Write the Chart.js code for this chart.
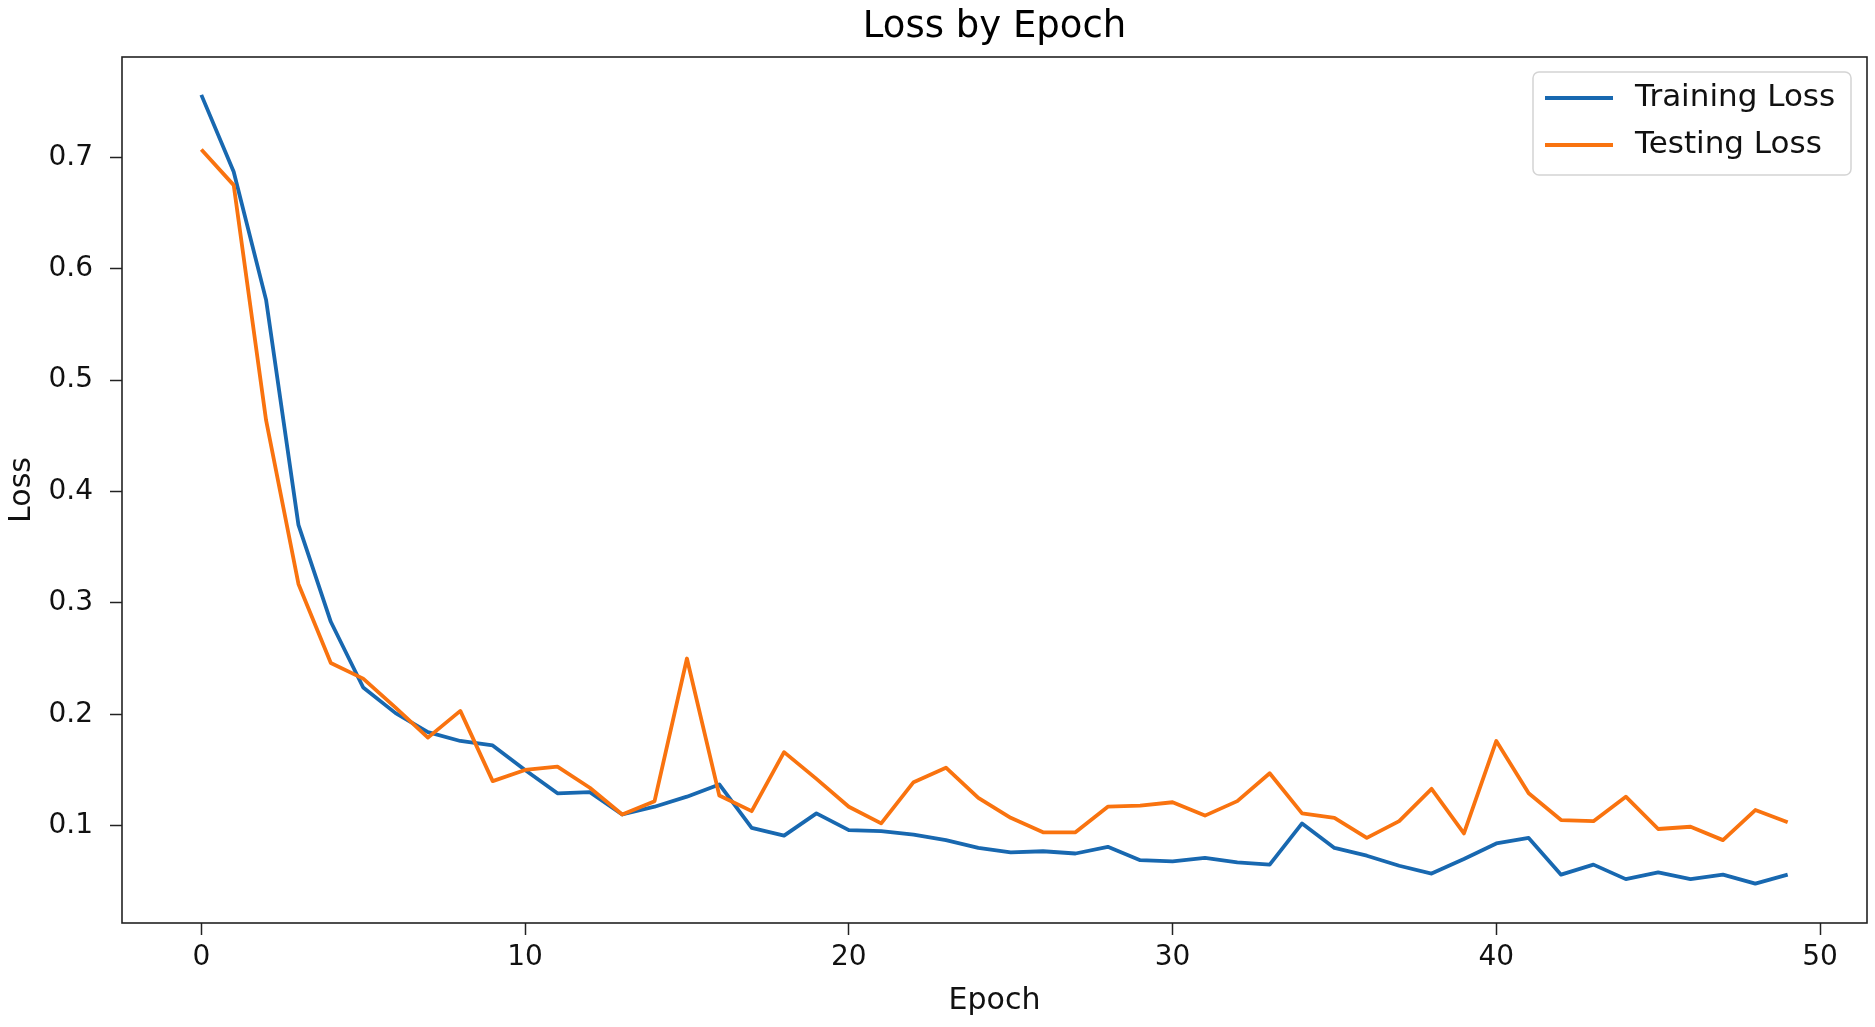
<!DOCTYPE html>
<html>
<head>
<meta charset="utf-8">
<script src="https://cdn.jsdelivr.net/npm/chart.js@4.4.1/dist/chart.umd.min.js"></script>
<style>
  html, body { margin: 0; padding: 0; background: #fff; }
  canvas { display: block; }
</style>
</head>
<body>
<canvas id="lossChart" width="1875" height="1027"></canvas>
<script>
// values
const epochs = [0, 1, 2, 3, 4, 5, 6, 7, 8, 9,
                10, 11, 12, 13, 14, 15, 16, 17, 18, 19,
                20, 21, 22, 23, 24, 25, 26, 27, 28, 29,
                30, 31, 32, 33, 34, 35, 36, 37, 38, 39,
                40, 41, 42, 43, 44, 45, 46, 47, 48, 49];

const trainingLoss = [0.756, 0.687, 0.572, 0.370, 0.283, 0.224, 0.201, 0.184, 0.176, 0.172,
                      0.150, 0.129, 0.130, 0.110, 0.117, 0.126, 0.137, 0.098, 0.091, 0.111,
                      0.096, 0.095, 0.092, 0.087, 0.080, 0.076, 0.077, 0.075, 0.081, 0.069,
                      0.068, 0.071, 0.067, 0.065, 0.102, 0.080, 0.073, 0.064, 0.057, 0.070,
                      0.084, 0.089, 0.056, 0.065, 0.052, 0.058, 0.052, 0.056, 0.048, 0.056];

const testingLoss = [0.707, 0.675, 0.464, 0.317, 0.246, 0.232, 0.206, 0.179, 0.203, 0.140,
                     0.150, 0.153, 0.134, 0.110, 0.122, 0.250, 0.127, 0.113, 0.166, 0.142,
                     0.117, 0.102, 0.139, 0.152, 0.125, 0.107, 0.094, 0.094, 0.117, 0.118,
                     0.121, 0.109, 0.122, 0.147, 0.111, 0.107, 0.089, 0.104, 0.133, 0.093,
                     0.176, 0.129, 0.105, 0.104, 0.126, 0.097, 0.099, 0.087, 0.114, 0.103];

const xTicks = [0, 10, 20, 30, 40, 50];
const yTicks = [0.1, 0.2, 0.3, 0.4, 0.5, 0.6, 0.7];

const titleText = 'Loss by Epoch';

const BLUE = '#1868b0';
const ORANGE = '#f9730f';

Chart.defaults.font.family = "'DejaVu Sans', sans-serif";
Chart.defaults.color = '#111';

// box round the plot area, like matplotlib's spines
const frame = {
    id: 'frame',
    afterDatasetsDraw(chart) {
        const {ctx, chartArea: a} = chart;
        ctx.save();
        ctx.strokeStyle = '#222';
        ctx.lineWidth = 1.6;
        ctx.strokeRect(a.left, a.top, a.right - a.left, a.bottom - a.top);
        ctx.restore();
    }
};

// title centred over the plot area (not the whole canvas)
const axesTitle = {
    id: 'axesTitle',
    afterDraw(chart) {
        const {ctx, chartArea: a} = chart;
        ctx.save();
        ctx.font = "37px 'DejaVu Sans'";
        ctx.fillStyle = '#000';
        ctx.textAlign = 'center';
        ctx.textBaseline = 'alphabetic';
        ctx.fillText(titleText, (a.left + a.right) / 2, 37);
        ctx.restore();
    }
};

// legend drawn inside the plot, upper right
const innerLegend = {
    id: 'innerLegend',
    afterDraw(chart) {
        const {ctx} = chart;
        const box = {x: 1533, y: 72, w: 318, h: 103};
        ctx.save();
        ctx.fillStyle = 'rgba(255,255,255,0.8)';
        ctx.strokeStyle = '#d4d4d4';
        ctx.lineWidth = 1.5;
        ctx.beginPath();
        ctx.roundRect(box.x, box.y, box.w, box.h, 6);
        ctx.fill();
        ctx.stroke();

        ctx.font = "31px 'DejaVu Sans'";
        ctx.textBaseline = 'middle';
        ctx.fillStyle = '#111';
        ctx.lineWidth = 3.8;
        chart.data.datasets.forEach((ds, i) => {
            const y = 98 + i * 47;
            ctx.strokeStyle = ds.borderColor;
            ctx.beginPath();
            ctx.moveTo(1545, y);
            ctx.lineTo(1613, y);
            ctx.stroke();
            ctx.fillText(ds.label, 1635, y);
        });
        ctx.restore();
    }
};

const ctx = document.getElementById('lossChart').getContext('2d');
const lossChart = new Chart(ctx, {
    type: 'line',
    data: {
        datasets: [{
            label: 'Training Loss',
            data: epochs.map((e, i) => ({x: e, y: trainingLoss[i]})),
            borderColor: BLUE,
            borderWidth: 3.8,
            pointRadius: 0,
            tension: 0,
            borderJoinStyle: 'round',
            order: 1
        }, {
            label: 'Testing Loss',
            data: epochs.map((e, i) => ({x: e, y: testingLoss[i]})),
            borderColor: ORANGE,
            borderWidth: 3.8,
            pointRadius: 0,
            tension: 0,
            borderJoinStyle: 'round',
            order: 0
        }]
    },
    options: {
        responsive: false,
        animation: false,
        devicePixelRatio: 1,
        layout: {
            padding: {left: 0, right: 8, top: 57, bottom: 0}
        },
        plugins: {
            legend: {display: false},
            tooltip: {enabled: false},
            title: {display: false}
        },
        scales: {
            x: {
                type: 'linear',
                min: -2.45,
                max: 51.45,
                afterBuildTicks: scale => {
                    scale.ticks = xTicks.map(v => ({value: v}));
                },
                afterFit: scale => {
                    scale.height = 104;
                },
                grid: {
                    drawOnChartArea: false,
                    tickLength: 12,
                    tickWidth: 1.5,
                    tickColor: '#222'
                },
                border: {display: false},
                ticks: {
                    font: {size: 28},
                    color: '#111',
                    padding: 6,
                    maxRotation: 0
                },
                title: {
                    display: true,
                    text: 'Epoch',
                    color: '#111',
                    font: {size: 30},
                    padding: {top: 0, bottom: 8}
                }
            },
            y: {
                type: 'linear',
                min: 0.0126,
                max: 0.790,
                afterBuildTicks: scale => {
                    scale.ticks = yTicks.map(v => ({value: v}));
                },
                afterFit: scale => {
                    scale.width = 122;
                },
                grid: {
                    drawOnChartArea: false,
                    tickLength: 12,
                    tickWidth: 1.5,
                    tickColor: '#222'
                },
                border: {display: false},
                ticks: {
                    font: {size: 28},
                    color: '#111',
                    padding: 17,
                    callback: v => v.toFixed(1)
                },
                title: {
                    display: true,
                    text: 'Loss',
                    color: '#111',
                    font: {size: 30},
                    padding: {top: 4, bottom: 0}
                }
            }
        }
    },
    plugins: [frame, axesTitle, innerLegend]
});
</script>
</body>
</html>
